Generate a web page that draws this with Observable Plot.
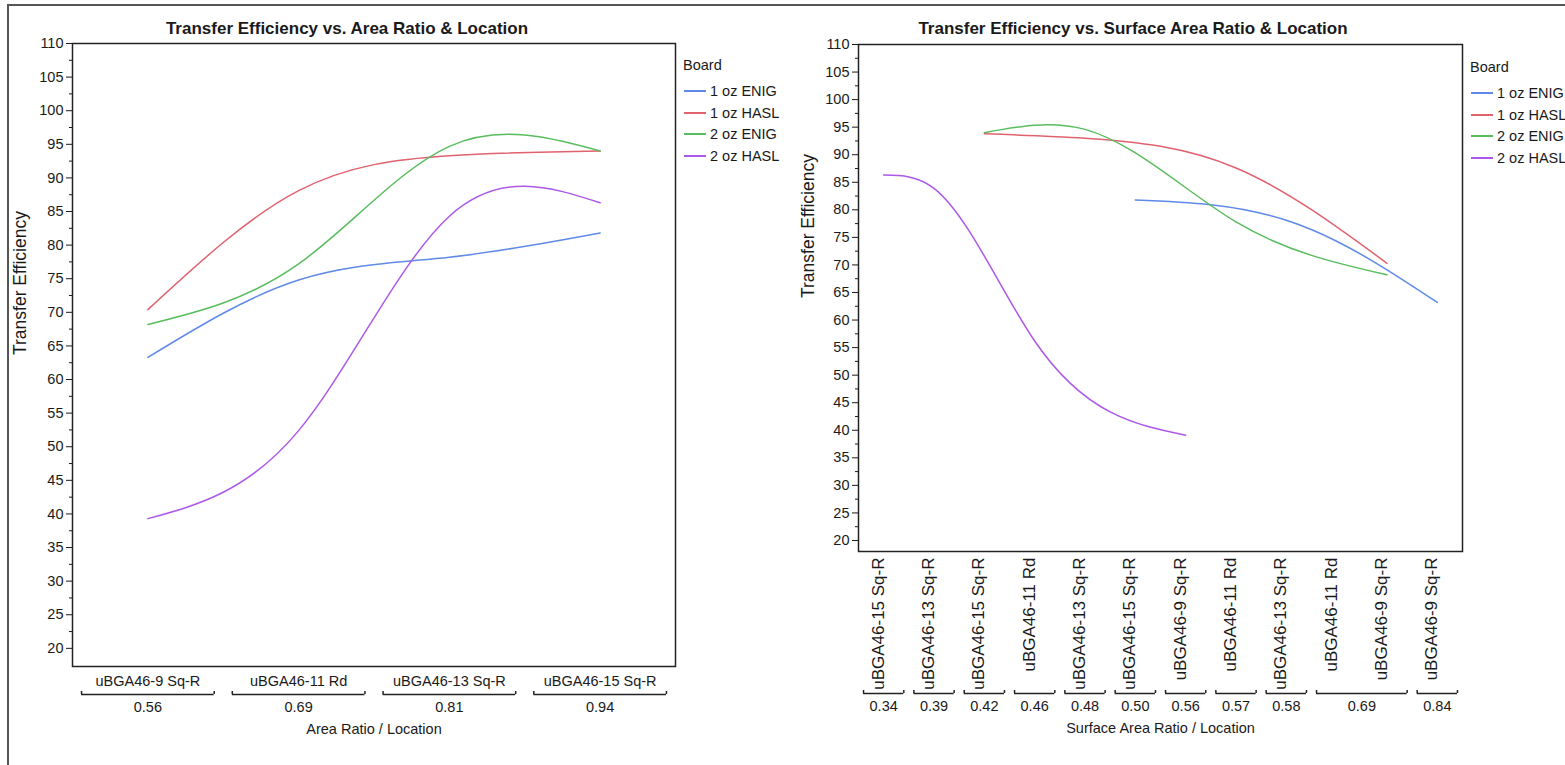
<!DOCTYPE html>
<html>
<head>
<meta charset="utf-8">
<script src="https://cdn.jsdelivr.net/npm/d3@7"></script>
<script src="https://cdn.jsdelivr.net/npm/@observablehq/plot@0.6"></script>
<style>
  html, body { margin: 0; padding: 0; background: #fff; }
  #page { position: relative; width: 1565px; height: 765px; overflow: hidden;
          font-family: 'Liberation Sans', Arial, sans-serif; color: #1a1a1a; }
  #border { position: absolute; left: 7px; top: 4px; right: -10px; bottom: -10px;
            border-top: 2px solid #555; border-left: 2px solid #555; }
  .title { position: absolute; top: 18px; font-weight: bold; font-size: 17px; line-height: 22px;
           white-space: nowrap; transform: translateX(-50%); }
  .chart { position: absolute; top: 36px; }
  .legend { position: absolute; font-size: 14.5px; line-height: 20px; white-space: nowrap; }
  .legend .row { position: absolute; left: 0; display: flex; align-items: center; }
  .legend .row svg { margin-right: 3px; }
</style>
</head>
<body>
<div id="page">
  <div id="border"></div>
  <div class="title" style="left:347px">Transfer Efficiency vs. Area Ratio &amp; Location</div>
  <div class="title" style="left:1133px">Transfer Efficiency vs. Surface Area Ratio &amp; Location</div>
  <div class="chart" id="left" style="left:0px"></div>
  <div class="chart" id="right" style="left:780px"></div>
  <div class="legend" id="legL" style="left:683px; top:55px"></div>
  <div class="legend" id="legR" style="left:1470px; top:57px"></div>
</div>
<script>
// ---------------- data ----------------
const boards = ["1 oz ENIG", "1 oz HASL", "2 oz ENIG", "2 oz HASL"];
const boardColors = ["#5f8ae8", "#e0626f", "#58bd5e", "#ad58e8"];
const locations = ["uBGA46-9 Sq-R", "uBGA46-11 Rd", "uBGA46-13 Sq-R", "uBGA46-15 Sq-R"];
const areaRatios = ["0.56", "0.69", "0.81", "0.94"];

// Transfer efficiency vs area ratio (by location, in order of `locations`)
const teArea_1ozENIG = [63.3, 74.8, 78.2, 81.8];
const teArea_1ozHASL = [70.4, 88.1, 93.3, 94.0];
const teArea_2ozENIG = [68.2, 77.2, 94.7, 94.0];
const teArea_2ozHASL = [39.3, 52.4, 84.3, 86.3];

// Surface area ratio per board (by location)
const sar_1ozENIG = ["0.84", "0.69", "0.58", "0.50"];
const sar_1ozHASL = ["0.69", "0.57", "0.48", "0.42"];
const sar_2ozENIG = ["0.69", "0.57", "0.48", "0.42"];
const sar_2ozHASL = ["0.56", "0.46", "0.39", "0.34"];

// Transfer efficiency vs surface area ratio (by location)
const teSurf_1ozENIG = [63.2, 74.3, 78.1, 81.8];
const teSurf_1ozHASL = [70.3, 87.6, 93.0, 93.8];
const teSurf_2ozENIG = [68.2, 77.8, 94.6, 94.0];
const teSurf_2ozHASL = [39.1, 56.2, 83.9, 86.3];

const yTicks = d3.range(20, 111, 5);
const yMinor = d3.range(22.5, 110, 5);

// ---------------- build tables ----------------
const teArea = [teArea_1ozENIG, teArea_1ozHASL, teArea_2ozENIG, teArea_2ozHASL];
const sar = [sar_1ozENIG, sar_1ozHASL, sar_2ozENIG, sar_2ozHASL];
const teSurf = [teSurf_1ozENIG, teSurf_1ozHASL, teSurf_2ozENIG, teSurf_2ozHASL];

const leftData = boards.flatMap((b, k) => locations.map((loc, i) => ({board: b, xi: i, te: teArea[k][i]})));
const leftCols = locations.map((loc, i) => ({xi: i, label: loc}));
const leftGroups = locations.map((loc, i) => ({ratio: areaRatios[i], first: i, last: i}));

const keyOf = (r, loc) => r + "|" + loc;
const colKeys = Array.from(new Set(boards.flatMap((b, k) => locations.map((loc, i) => keyOf(sar[k][i], loc))))).sort();
const rightCols = colKeys.map((k, i) => ({xi: i, ratio: k.split("|")[0], label: k.split("|")[1]}));
const rightData = boards.flatMap((b, k) =>
  locations.map((loc, i) => ({board: b, xi: colKeys.indexOf(keyOf(sar[k][i], loc)), te: teSurf[k][i]}))
    .sort((a, c) => a.xi - c.xi));
const rightGroups = Array.from(d3.group(rightCols, d => d.ratio), ([ratio, cs]) =>
  ({ratio, first: d3.min(cs, c => c.xi), last: d3.max(cs, c => c.xi)}));

// ---------------- natural cubic spline in x (curve factory) ----------------
function curveNaturalX(context) {
  return {
    areaStart() {}, areaEnd() {},
    lineStart() { this.X = []; this.Y = []; },
    point(x, y) { this.X.push(+x); this.Y.push(+y); },
    lineEnd() {
      const X = this.X, Y = this.Y, n = X.length;
      if (!n) return;
      context.moveTo(X[0], Y[0]);
      if (n === 2) { context.lineTo(X[1], Y[1]); return; }
      const h = [], M = new Array(n).fill(0), b = [], c = [], a = [], r = [];
      for (let i = 0; i < n - 1; i++) h[i] = X[i + 1] - X[i];
      for (let i = 1; i < n - 1; i++) {
        a[i] = h[i - 1]; b[i] = 2 * (h[i - 1] + h[i]); c[i] = h[i];
        r[i] = 6 * ((Y[i + 1] - Y[i]) / h[i] - (Y[i] - Y[i - 1]) / h[i - 1]);
      }
      for (let i = 2; i < n - 1; i++) { const m = a[i] / b[i - 1]; b[i] -= m * c[i - 1]; r[i] -= m * r[i - 1]; }
      for (let i = n - 2; i >= 1; i--) M[i] = (r[i] - (i < n - 2 ? c[i] * M[i + 1] : 0)) / b[i];
      for (let i = 0; i < n - 1; i++) {
        const s = (Y[i + 1] - Y[i]) / h[i];
        const d0 = s - h[i] * (2 * M[i] + M[i + 1]) / 6;
        const d1 = s + h[i] * (M[i] + 2 * M[i + 1]) / 6;
        context.bezierCurveTo(X[i] + h[i] / 3, Y[i] + d0 * h[i] / 3, X[i + 1] - h[i] / 3, Y[i + 1] - d1 * h[i] / 3, X[i + 1], Y[i + 1]);
      }
    }
  };
}

const FONT = "'Liberation Sans', Arial, sans-serif";
const FS = 14.5;

function chart(o) {
  const yMin = o.yDomain[0];
  const caps = o.groups.flatMap(g => [{x: g.first - 0.5 + o.inset}, {x: g.last + 0.5 - o.inset}]);
  return Plot.plot({
    width: o.width, height: o.height,
    marginLeft: o.ml, marginRight: o.mr, marginTop: o.mt, marginBottom: o.mb,
    style: {fontFamily: FONT, fontSize: FS + "px", color: "#1a1a1a", background: "transparent", overflow: "visible"},
    x: {domain: [-0.5, o.n - 0.5], axis: null},
    y: {domain: o.yDomain},
    color: {domain: boards, range: boardColors},
    marks: [
      Plot.axisY({ticks: yTicks, tickSize: 6, tickPadding: 3, label: null, fontSize: FS}),
      Plot.axisY({ticks: yMinor, tickSize: 3, tickFormat: () => "", label: null}),
      Plot.text(["Transfer Efficiency"], {frameAnchor: "left", dx: o.yTitleDx, rotate: -90, fontSize: 17.5}),
      Plot.line(o.data, {x: "xi", y: "te", z: "board", stroke: "board", curve: curveNaturalX, strokeWidth: 1.5}),
      Plot.frame({stroke: "#222", strokeWidth: 1.5}),
      o.rotate
        ? Plot.text(o.cols, {x: "xi", text: "label", frameAnchor: "bottom", dy: 6, rotate: -90, textAnchor: "end", fontSize: 17})
        : Plot.text(o.cols, {x: "xi", text: "label", frameAnchor: "bottom", dy: 19, fontSize: FS}),
      Plot.ruleY(o.groups, {y: () => yMin, x1: g => g.first - 0.5 + o.inset, x2: g => g.last + 0.5 - o.inset,
                            dy: o.bracketDy, stroke: "#222", strokeWidth: 1.5}),
      Plot.ruleX(caps, {x: "x", y1: () => yMin, y2: () => yMin, insetTop: -3, dy: o.bracketDy, stroke: "#222", strokeWidth: 1.5}),
      Plot.text(o.groups, {x: g => (g.first + g.last) / 2, text: "ratio", frameAnchor: "bottom", dy: o.bracketDy + 17, fontSize: FS}),
      Plot.text([o.xTitle], {frameAnchor: "bottom", dy: o.bracketDy + 39, fontSize: FS})
    ]
  });
}

document.getElementById("left").append(chart({
  width: 780, height: 729, ml: 72, mr: 105, mt: 7, mb: 99,
  yDomain: [17.3, 110], n: 4, data: leftData, cols: leftCols, groups: leftGroups,
  rotate: false, inset: 0.06, bracketDy: 28, yTitleDx: -52, xTitle: "Area Ratio / Location"
}));

document.getElementById("right").append(chart({
  width: 785, height: 729, ml: 78, mr: 103, mt: 8, mb: 214,
  yDomain: [18, 110], n: colKeys.length, data: rightData, cols: rightCols, groups: rightGroups,
  rotate: true, inset: 0.1, bracketDy: 142, yTitleDx: -50, xTitle: "Surface Area Ratio / Location"
}));

function legend(id) {
  const el = document.getElementById(id);
  const head = document.createElement("div");
  head.className = "row"; head.style.top = "0px"; head.textContent = "Board";
  el.append(head);
  boards.forEach((b, i) => {
    const row = document.createElement("div");
    row.className = "row";
    row.style.top = (26 + i * 21.7) + "px";
    row.innerHTML = `<svg width="24" height="10"><line x1="1" x2="23" y1="5" y2="5" stroke="${boardColors[i]}" stroke-width="2"/></svg><span>${b}</span>`;
    el.append(row);
  });
}
legend("legL");
legend("legR");
</script>
</body>
</html>
